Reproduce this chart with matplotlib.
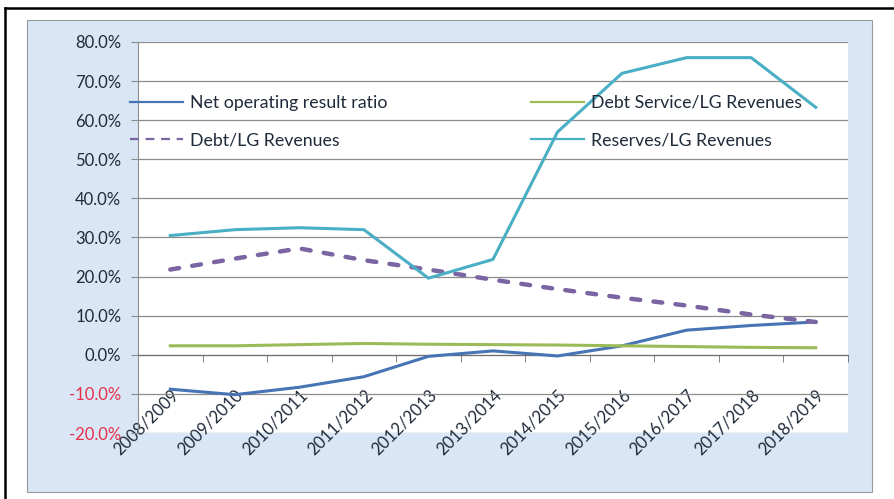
import numpy as np
import matplotlib
matplotlib.use("Agg")
import matplotlib.pyplot as plt
from matplotlib.patches import Rectangle
from matplotlib.lines import Line2D
from matplotlib.ticker import FuncFormatter, FixedLocator

# data (percent)
years = ["2008/2009", "2009/2010", "2010/2011", "2011/2012", "2012/2013", "2013/2014",
         "2014/2015", "2015/2016", "2016/2017", "2017/2018", "2018/2019"]
net_op = [-8.8, -10.2, -8.3, -5.6, -0.4, 1.0, -0.3, 2.3, 6.3, 7.5, 8.4]
debt_service = [2.3, 2.3, 2.6, 2.9, 2.7, 2.6, 2.5, 2.3, 2.1, 1.9, 1.8]
debt_lg = [21.8, 24.6, 27.2, 24.2, 21.8, 19.2, 16.8, 14.6, 12.6, 10.3, 8.4]
reserves = [30.5, 32.0, 32.5, 32.0, 19.6, 24.4, 57.0, 72.0, 76.0, 76.0, 63.3]

names = ["Net operating result ratio", "Debt/LG Revenues",
         "Debt Service/LG Revenues", "Reserves/LG Revenues"]
c_net = "#4674b4"
c_ds = "#9bbb59"
c_debt = "#7b64a2"
c_res = "#4aaec4"

plt.rcParams['font.family'] = ['Lato', 'DejaVu Sans']

W, H = 894, 499
fig = plt.figure(figsize=(W / 100, H / 100), dpi=100)
fig.patch.set_facecolor("white")

# textured-looking chart area (solid light blue)
fig.patches.append(Rectangle((27 / W, 1 - 492 / H), 845 / W, 472 / H,
                             transform=fig.transFigure, facecolor="#d8e6f5",
                             edgecolor="#9a9a9a", lw=0.8, zorder=-5))
# black frame on left and top
fig.add_artist(Line2D([5 / W, 5 / W], [0, 1 - 8 / H], transform=fig.transFigure,
                      color="black", lw=1.8))
fig.add_artist(Line2D([5 / W, 1], [1 - 8 / H, 1 - 8 / H], transform=fig.transFigure,
                      color="black", lw=1.8))

ax = fig.add_axes([138 / W, 1 - 433 / H, 710 / W, 391 / H])
ax.set_zorder(2)
ax.set_facecolor("white")
x = np.arange(len(years))

ax.plot(x, net_op, color=c_net, lw=2.2, solid_joinstyle="round", zorder=3)
ax.plot(x, debt_lg, color=c_debt, lw=3.2, ls=(0, (2.0, 3.0)), dash_capstyle="round", zorder=3)
ax.plot(x, debt_service, color=c_ds, lw=2.2, zorder=3)
ax.plot(x, reserves, color=c_res, lw=2.2, solid_joinstyle="round", zorder=3)

ax.set_xlim(-0.5, len(years) - 0.5)
ax.set_ylim(-20, 80)
ax.set_yticks(np.arange(-20, 81, 10))
ax.yaxis.set_major_formatter(FuncFormatter(lambda v, p: f"{v:.1f}%"))
ax.grid(axis="y", color="#8c8c8c", lw=0.9, zorder=1)
ax.set_axisbelow(True)

for s in ["top", "right"]:
    ax.spines[s].set_visible(False)
ax.spines["left"].set_color("#8c8c8c")
ax.spines["bottom"].set_color("#6e6e6e")
ax.spines["bottom"].set_position(("data", 0))

ax.tick_params(axis="y", length=5, color="#8c8c8c", labelsize=12, pad=7, labelcolor="#1f2a3a")
for lab, v in zip(ax.get_yticklabels(), np.arange(-20, 81, 10)):
    if v < 0:
        lab.set_color("#e8304a")

ax.set_xticks(x)
ax.set_xticklabels(years, rotation=45, ha="right", va="top", rotation_mode="anchor")
ax.xaxis.set_minor_locator(FixedLocator(np.arange(0.5, len(years), 1.0)))
ax.tick_params(axis="x", which="major", length=0, pad=23, labelsize=12, labelcolor="#1f2a3a")
ax.tick_params(axis="x", which="minor", length=5, color="#6e6e6e")

handles = [
    Line2D([], [], color=c_net, lw=1.6),
    Line2D([], [], color=c_debt, lw=1.6, ls=(0, (4, 3))),
    Line2D([], [], color=c_ds, lw=1.6),
    Line2D([], [], color=c_res, lw=1.6),
]
leg = fig.legend(handles, names, ncol=2, loc="upper left",
                 bbox_to_anchor=(130 / W, 1 - 95 / H), frameon=False,
                 fontsize=12.8, handlelength=3.0, handletextpad=0.35,
                 labelspacing=1.2, columnspacing=8.1, borderpad=0, borderaxespad=0)
for t in leg.get_texts():
    t.set_color("#1f2a3a")

fig.savefig("out.png", dpi=100)
